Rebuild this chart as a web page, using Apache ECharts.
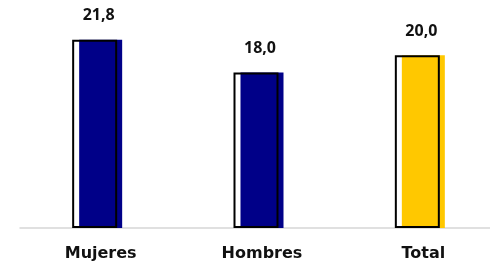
<!DOCTYPE html>
<html>
<head>
<meta charset="utf-8">
<script src="https://cdn.jsdelivr.net/npm/echarts@6/dist/echarts.min.js"></script>
<style>
  html, body { margin: 0; padding: 0; background: #fff; }
  #chart { width: 490px; height: 264px; }
</style>
</head>
<body>
<div id="chart"></div>
<script>
  var categories = ['Mujeres', 'Hombres', 'Total']
  var values = [21.8, 18.0, 20.0]
  var barColors = ['#000088', '#000088', '#ffc800']

  var chart = echarts.init(document.getElementById('chart'))

  var fontFam = '"Open Sans", sans-serif'

  chart.setOption({
    animation: false,
    grid: [
      // coloured bars (main axis)
      { left: 20, width: 484, top: 12, bottom: 36, outerBoundsMode: 'none' },
      // black outline bars, shifted a bit left
      { left: 14, width: 484, top: 12, bottom: 36, outerBoundsMode: 'none' }
    ],
    xAxis: [
      {
        type: 'category',
        gridIndex: 0,
        data: categories,
        axisTick: { show: false },
        axisLine: { lineStyle: { color: '#d6d6d6', width: 1.5 } },
        axisLabel: {
          margin: 18,
          fontSize: 16,
          fontWeight: 'bold',
          color: '#111',
          fontFamily: '"DejaVu Sans", sans-serif'
        }
      },
      {
        type: 'category',
        gridIndex: 1,
        data: categories,
        show: false
      }
    ],
    yAxis: [
      { type: 'value', gridIndex: 0, min: 0, max: 25, show: false },
      { type: 'value', gridIndex: 1, min: 0, max: 25, show: false }
    ],
    series: [
      {
        type: 'bar',
        xAxisIndex: 0,
        yAxisIndex: 0,
        barWidth: 43,
        data: values.map(function (v, i) {
          return { value: v, itemStyle: { color: barColors[i] } }
        }),
        label: {
          show: true,
          position: 'top',
          distance: 16,
          offset: [-2, 0],
          fontSize: 16,
          fontWeight: 'bold',
          color: '#111',
          fontFamily: fontFam,
          formatter: function (p) {
            return p.value.toFixed(1).replace('.', ',')
          }
        }
      },
      {
        type: 'bar',
        xAxisIndex: 1,
        yAxisIndex: 1,
        barWidth: 45,
        z: 5,
        data: values,
        itemStyle: {
          color: 'rgba(0,0,0,0)',
          borderColor: '#000',
          borderWidth: 2
        }
      }
    ]
  })
</script>
</body>
</html>
